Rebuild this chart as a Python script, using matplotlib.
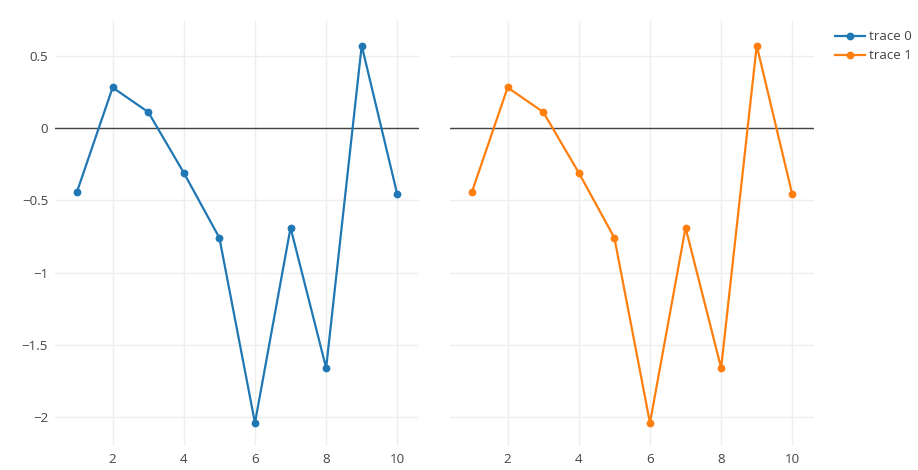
import matplotlib
matplotlib.use('Agg')
import matplotlib.pyplot as plt

# data
x_vals = [1, 2, 3, 4, 5, 6, 7, 8, 9, 10]
trace0 = [-0.44, 0.28, 0.11, -0.31, -0.76, -2.04, -0.69, -1.66, 0.57, -0.46]
trace1 = [-0.44, 0.28, 0.11, -0.31, -0.76, -2.04, -0.69, -1.66, 0.57, -0.46]
trace_names = ['trace 0', 'trace 1']
trace_colors = ['#1f77b4', '#ff7f0e']
x_ticks = [2, 4, 6, 8, 10]
y_ticks = [0.5, 0, -0.5, -1, -1.5, -2]
y_tick_labels = ['0.5', '0', '\u22120.5', '\u22121', '\u22121.5', '\u22122']

plt.rcParams['font.family'] = ['Open Sans', 'DejaVu Sans']

W, H = 918, 470
fig = plt.figure(figsize=(W / 100, H / 100), dpi=100)

def make_axes(left, right):
    ax = fig.add_axes([left / W, (H - 446) / H, (right - left) / W, (446 - 21) / H])
    ax.set_xlim(0.38, 10.61)
    ax.set_ylim(-2.20, 0.74)
    for s in ax.spines.values():
        s.set_visible(False)
    ax.set_xticks(x_ticks)
    ax.set_yticks(y_ticks)
    ax.grid(True, color='#eeeeee', linewidth=1)
    ax.set_axisbelow(True)
    ax.tick_params(length=0, labelsize=9.6, colors='#444444', pad=5)
    ax.axhline(0, color='#444444', linewidth=1, zorder=1.5)
    return ax

ax1 = make_axes(55, 419)
ax2 = make_axes(450, 814)

ax1.set_yticklabels(y_tick_labels)
ax2.set_yticklabels([])

lines = []
for ax, ys, name, c in zip([ax1, ax2], [trace0, trace1], trace_names, trace_colors):
    ln, = ax.plot(x_vals, ys, color=c, linewidth=1.6, marker='o', markersize=4.6,
                  label=name, clip_on=False, zorder=3)
    lines.append(ln)

fig.legend(lines, trace_names, loc='upper left', bbox_to_anchor=(830 / W, 1 - 25 / H),
           frameon=False, fontsize=9.6, handlelength=2.2, labelspacing=0.45,
           handletextpad=0.3, borderaxespad=0, labelcolor='#444444')

fig.savefig('out.png', dpi=100)
plt.close()
